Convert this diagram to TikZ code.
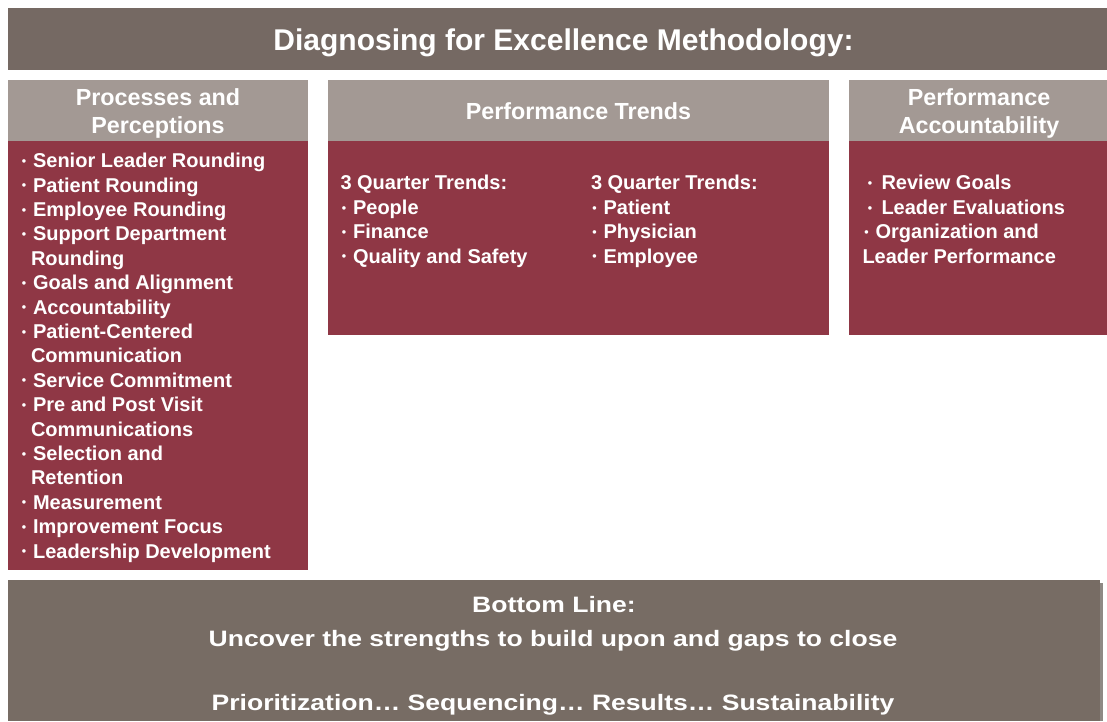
\documentclass[tikz,border=0pt]{standalone}
\usepackage{fontspec}
\setmainfont{Liberation Sans}
\newfontfamily\widefont[FakeStretch=1.19]{Liberation Sans}

\definecolor{titlebrown}{HTML}{756963}
\definecolor{headgray}{HTML}{A39994}
\definecolor{bodyred}{HTML}{8F3745}
\definecolor{bottombrown}{HTML}{776C64}
\definecolor{edgeshade}{HTML}{8E8A85}

% small list bullet keeping the advance width of a normal bullet
\newcommand\smalldot{\makebox[7pt][c]{\raisebox{2.4pt}{\scalebox{0.62}{\textbullet}}}}
\newcommand\bul{\smalldot\ }

\begin{document}
\begin{tikzpicture}[x=1pt,y=-1pt,
  panel/.style={inner sep=0pt, outer sep=0pt, anchor=north west},
  txt/.style={text=white, inner sep=0pt, outer sep=0pt},
  headtxt/.style={txt, align=center, font=\bfseries\fontsize{23.3}{28}\selectfont},
  bodytxt/.style={txt, align=left, anchor=north west, font=\bfseries\fontsize{20}{24.4}\selectfont},
  bottomtxt/.style={txt, anchor=base, font=\widefont\bfseries\fontsize{22.3}{27}\selectfont},
]
\useasboundingbox (0,0) rectangle (1107,721);
\fill[white] (0,0) rectangle (1107,721);

% title bar
\node[panel, fill=titlebrown, minimum width=1099pt, minimum height=62pt] (titleBar) at (8,8) {};
\node[txt, anchor=base, font=\bfseries\fontsize{30}{36}\selectfont] (titleText) at (563.5,50)
  {Diagnosing for Excellence Methodology:};

% column panels
\node[panel, fill=headgray, minimum width=300pt, minimum height=61pt] (ppHead) at (8,80) {};
\node[panel, fill=bodyred,  minimum width=300pt, minimum height=429pt] (ppBody) at (8,141) {};
\node[panel, fill=headgray, minimum width=501pt, minimum height=61pt] (ptHead) at (328,80) {};
\node[panel, fill=bodyred,  minimum width=501pt, minimum height=194pt] (ptBody) at (328,141) {};
\node[panel, fill=headgray, minimum width=258pt, minimum height=61pt] (paHead) at (849,80) {};
\node[panel, fill=bodyred,  minimum width=258pt, minimum height=194pt] (paBody) at (849,141) {};

% column headings
\node[headtxt, anchor=north] (ppTitle) at (158,88.2) {Processes and\\Perceptions};
\node[headtxt, anchor=base] (ptTitle) at (578.5,119.5) {Performance Trends};
\node[headtxt, anchor=north] (paTitle) at (979,88.2) {Performance\\Accountability};

% column contents
\node[bodytxt] (ppList) at (20.5,153.1) {%
  \bul Senior Leader Rounding\\
  \bul Patient Rounding\\
  \bul Employee Rounding\\
  \bul Support Department\\
  \hspace*{10.5pt}Rounding\\
  \bul Goals and Alignment\\
  \bul Accountability\\
  \bul Patient-Centered\\
  \hspace*{10.5pt}Communication\\
  \bul Service Commitment\\
  \bul Pre and Post Visit\\
  \hspace*{10.5pt}Communications\\
  \bul Selection and\\
  \hspace*{10.5pt}Retention\\
  \bul Measurement\\
  \bul Improvement Focus\\
  \bul Leadership Development};

\node[bodytxt] (ptListA) at (340.5,175.5) {%
  3 Quarter Trends:\\
  \bul People\\
  \bul Finance\\
  \bul Quality and Safety};
\node[bodytxt] (ptListB) at (591,175.5) {%
  3 Quarter Trends:\\
  \bul Patient\\
  \bul Physician\\
  \bul Employee};

\node[bodytxt] (paList) at (862.5,175.5) {%
  \hspace*{4pt}\smalldot\hspace{8pt}Review Goals\\
  \hspace*{4pt}\smalldot\hspace{8pt}Leader Evaluations\\
  \hspace*{0.5pt}\bul Organization and\\
  Leader Performance};

% bottom line panel
\fill[edgeshade] (1099,583) rectangle (1103,721);
\node[panel, fill=bottombrown, minimum width=1092pt, minimum height=141pt] (bottomBox) at (8,580) {};
\node[bottomtxt] (bottomHead) at (554,612) {Bottom Line:};
\node[bottomtxt] (bottomGoal) at (553,646) {Uncover the strengths to build upon and gaps to close};
\node[bottomtxt] (bottomSteps) at (553,710) {Prioritization… Sequencing… Results… Sustainability};
\end{tikzpicture}
\end{document}
